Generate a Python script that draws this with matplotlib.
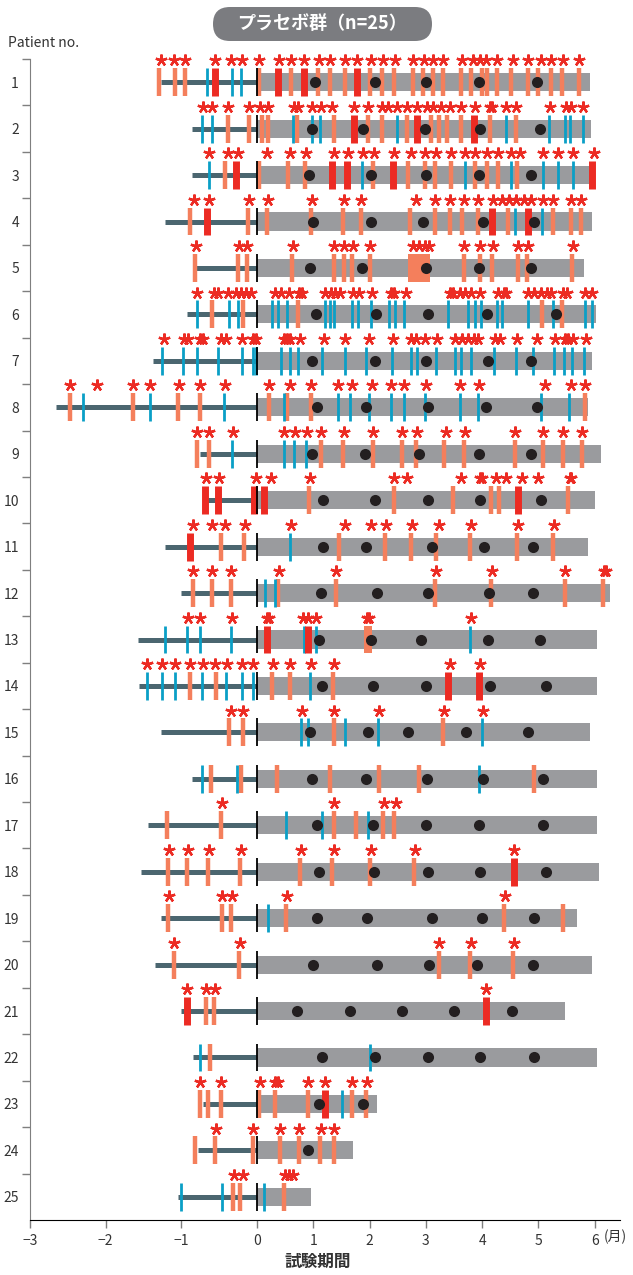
import numpy as np
import matplotlib.pyplot as plt
from matplotlib.patches import FancyBboxPatch

plt.rcParams['font.family'] = ['Noto Sans CJK JP', 'DejaVu Sans']

# 患者ごとのデータ（単位: 月）
patients = list(range(1, 26))

starts = [-1.27, -0.86, -0.86, -1.21, -0.82, -0.93, -1.37, -2.66, -0.76, -0.68,
          -1.21, -1.01, -1.57, -1.56, -1.27, -0.86, -1.44, -1.53, -1.27, -1.35,
          -1.01, -0.84, -0.72, -0.78, -1.05]
ends = [5.92, 5.94, 6.01, 5.96, 5.81, 6.03, 5.96, 5.88, 6.11, 6.00,
        5.88, 6.27, 6.04, 6.04, 5.91, 6.04, 6.05, 6.07, 5.68, 5.96,
        5.47, 6.05, 2.14, 1.70, 0.96]

dots = [
    [1.03, 2.09, 3.00, 3.94, 4.97],
    [0.97, 1.88, 2.98, 3.97, 5.03],
    [0.92, 2.02, 3.00, 3.94, 4.86],
    [1.00, 2.02, 2.95, 4.01, 4.93],
    [0.94, 1.86, 3.00, 3.94, 4.86],
    [1.05, 2.12, 3.03, 4.09, 5.31],
    [0.97, 2.09, 3.00, 4.10, 4.86],
    [1.07, 1.94, 3.04, 4.06, 4.97],
    [0.97, 1.92, 2.87, 3.94, 4.86],
    [1.17, 2.09, 3.04, 3.97, 5.05],
    [1.18, 1.94, 3.11, 4.03, 4.90],
    [1.14, 2.13, 3.04, 4.12, 4.90],
    [1.10, 2.02, 2.92, 4.10, 5.03],
    [1.16, 2.06, 3.00, 4.14, 5.13],
    [0.94, 1.97, 2.69, 3.72, 4.82],
    [0.97, 1.94, 3.02, 4.01, 5.09],
    [1.07, 2.06, 3.00, 3.94, 5.09],
    [1.10, 2.08, 3.04, 3.97, 5.13],
    [1.07, 1.96, 3.11, 4.00, 4.93],
    [1.00, 2.13, 3.05, 3.91, 4.90],
    [0.71, 1.66, 2.58, 3.50, 4.53],
    [1.16, 2.09, 3.04, 3.97, 4.92],
    [1.10, 1.89],
    [0.90],
    [],
]

orange = [
    [-1.29, -1.08, -0.95, 0.04, 0.61, 1.09, 1.29, 1.56, 2.01, 2.22, 2.44, 2.78, 2.95,
     3.13, 3.31, 3.63, 3.81, 3.99, 4.09, 4.26, 4.52, 4.81, 5.00, 5.22, 5.42, 5.73],
    [-0.38, -0.11, 0.08, 0.20, 0.71, 1.36, 1.97, 2.22, 2.66, 3.09, 3.23, 3.38, 3.63, 4.14, 4.61],
    [-0.42, 0.04, 0.55, 0.85, 2.06, 2.69, 2.98, 3.16, 3.44, 3.87, 4.09, 4.28, 4.62],
    [-0.88, -0.12, 0.18, 0.95, 1.52, 1.84, 2.71, 3.16, 3.43, 3.65, 3.92, 4.46, 5.26, 5.58, 5.76],
    [-0.82, -0.25, -0.13, 0.62, 1.36, 1.54, 1.68, 2.01, 3.67, 3.97, 4.17, 4.63, 4.80, 5.60],
    [-0.59, -0.19, 0.72, 5.06, 5.42],
    [],
    [-2.47, -1.64, -1.04, -0.76, 0.22, 0.54, 0.95, 5.82],
    [-0.79, -0.63, 1.14, 1.52, 2.06, 2.58, 2.82, 3.33, 3.68, 4.58, 5.09, 5.44, 5.78],
    [0.92, 2.43, 3.49, 4.15, 4.30, 5.53],
    [-0.47, -0.17, 1.45, 2.27, 2.74, 3.18, 3.79, 4.62, 5.26],
    [-0.84, -0.60, -0.35, 0.38, 1.40, 3.17, 4.15, 5.48, 6.14],
    [],
    [-0.89, -0.54, 0.27, 0.58, 1.35],
    [-0.37, -0.19, 1.36, 3.31],
    [-0.61, -0.21, 0.36, 1.29, 2.17, 2.87, 4.92],
    [-1.19, -0.47, 1.36, 1.75, 2.24, 2.43],
    [-1.18, -0.92, -0.65, -0.23, 0.76, 1.33, 2.01, 2.79],
    [-1.18, -0.46, -0.34, 0.51, 4.39, 5.44],
    [-1.10, -0.24, 3.23, 3.79, 4.55],
    [-0.68, -0.57],
    [-0.62],
    [-0.76, -0.65, -0.48, 0.04, 0.32, 0.90, 1.69, 1.94],
    [-0.82, -0.55, -0.06, 0.40, 0.74, 1.11, 1.36],
    [-0.32, -0.22, 0.47],
]

red = [
    [-0.56, 0.38, 0.84, 1.77],
    [1.72, 2.84, 3.85],
    [-0.28, 1.34, 1.59, 2.42, 5.96],
    [-0.66, 4.17, 4.82],
    [], [], [], [], [],
    [-0.69, -0.52, -0.04, 0.13, 4.64],
    [-0.89],
    [],
    [0.17, 0.90],
    [3.40, 3.94],
    [], [], [],
    [4.56],
    [], [],
    [-0.93, 4.06],
    [],
    [1.21],
    [], [],
]

blue = [
    [-0.66, -0.33, -0.21],
    [-0.73, -0.59, 0.64, 0.98, 1.12, 2.48, 4.43, 5.18, 5.47, 5.57, 5.80],
    [-0.64, 1.86, 3.70, 4.52, 5.08, 5.35, 5.62],
    [4.58, 5.06],
    [],
    [-0.79, -0.37, -0.25, 0.27, 0.38, 0.53, 1.20, 1.30, 1.36, 1.68, 1.79, 2.03, 2.35,
     2.45, 2.62, 3.40, 3.75, 3.88, 3.98, 4.26, 4.35, 4.81, 5.26, 5.83, 5.96],
    [-1.25, -0.98, -0.79, -0.51, -0.20, -0.05, -0.02, 0.43, 0.58, 0.72, 1.16, 1.56, 1.94,
     2.40, 2.73, 2.84, 3.18, 3.51, 3.63, 3.80, 4.21, 4.61, 4.90, 5.28, 5.46, 5.60, 5.81],
    [-2.30, -1.42, -0.44, 0.47, 1.43, 1.66, 1.99, 2.38, 2.61, 2.98, 3.60, 3.92, 5.04, 5.55],
    [-0.33, 0.47, 0.66, 0.87],
    [],
    [0.58],
    [0.14, 0.31],
    [-1.21, -0.92, -0.76, -0.34, 0.83, 1.04, 3.79],
    [-1.46, -1.26, -1.08, -0.73, -0.41, -0.20, -0.06, 0.94],
    [0.78, 0.90, 1.56, 2.15, 3.99],
    [-0.73, -0.27, 3.94],
    [0.51, 1.16, 1.97],
    [],
    [0.19],
    [], [],
    [-0.76, 2.01],
    [1.51],
    [],
    [-1.00, -0.46, 0.12],
]

# 長い期間のイベント（開始, 終了）
blocks = [[] for _ in patients]
blocks[4] = [(2.68, 3.07)]
blocks[12] = [(1.90, 2.04)]

stars = [
    [-1.27, -1.10, -0.95, -0.55, -0.34, -0.20, 0.04, 0.39, 0.61, 0.84, 1.10, 1.30, 1.56,
     1.77, 2.02, 2.24, 2.45, 2.78, 2.96, 3.13, 3.31, 3.65, 3.83, 3.96, 4.07, 4.26, 4.55,
     4.81, 5.04, 5.23, 5.44, 5.73],
    [-0.72, -0.59, -0.38, -0.11, 0.06, 0.20, 0.65, 0.72, 0.98, 1.14, 1.34, 1.72, 1.97,
     2.22, 2.33, 2.48, 2.66, 2.84, 3.02, 3.13, 3.27, 3.42, 3.63, 3.88, 4.14, 4.17, 4.43,
     4.61, 5.20, 5.49, 5.58, 5.80],
    [-0.64, -0.39, -0.25, 0.17, 0.58, 0.87, 1.36, 1.61, 1.88, 2.08, 2.43, 2.73, 2.98,
     3.18, 3.45, 3.70, 3.88, 4.09, 4.28, 4.52, 4.68, 5.08, 5.35, 5.62, 5.98],
    [-0.83, -0.64, -0.11, 0.19, 0.98, 1.54, 1.85, 2.82, 3.16, 3.43, 3.67, 3.92, 4.19,
     4.35, 4.48, 4.61, 4.75, 4.86, 5.08, 5.26, 5.58, 5.76],
    [-0.81, -0.24, -0.13, 0.64, 1.36, 1.54, 1.70, 2.01, 2.77, 2.87, 2.98, 3.05, 3.67,
     3.97, 4.19, 4.64, 4.82, 5.62],
    [-0.79, -0.57, -0.52, -0.39, -0.28, -0.21, -0.14, -0.08, 0.31, 0.42, 0.56, 0.74, 0.79,
     1.21, 1.32, 1.39, 1.47, 1.70, 1.81, 2.04, 2.38, 2.44, 2.64, 3.42, 3.49, 3.60, 3.70,
     3.81, 3.96, 4.28, 4.38, 4.43, 4.82, 4.93, 5.04, 5.15, 5.22, 5.44, 5.51, 5.83, 5.96],
    [-1.23, -0.96, -0.91, -0.75, -0.71, -0.48, -0.41, -0.20, -0.06, -0.01, 0.47, 0.53,
     0.58, 0.77, 1.19, 1.57, 1.99, 2.42, 2.74, 2.82, 2.98, 3.20, 3.52, 3.65, 3.74, 3.85,
     3.92, 4.23, 4.32, 4.62, 4.97, 5.29, 5.47, 5.53, 5.62, 5.85],
    [-2.47, -2.11, -1.64, -1.41, -1.03, -0.75, -0.43, 0.22, 0.58, 0.96, 1.43, 1.68, 2.04,
     2.38, 2.62, 3.00, 3.61, 3.94, 5.11, 5.58, 5.82],
    [-0.79, -0.63, -0.32, 0.47, 0.67, 0.89, 1.14, 1.54, 2.06, 2.58, 2.84, 3.36, 3.70,
     4.59, 5.09, 5.44, 5.78],
    [-0.67, -0.50, -0.01, 0.24, 0.94, 2.43, 2.67, 3.63, 3.96, 4.00, 4.25, 4.43, 4.71,
     5.00, 5.56, 5.58],
    [-0.85, -0.60, -0.43, -0.16, 0.61, 1.57, 2.02, 2.30, 2.75, 3.23, 3.81, 4.63, 5.27],
    [-0.84, -0.59, -0.35, 0.39, 1.40, 3.18, 4.17, 5.48, 6.16, 6.20],
    [-0.91, -0.75, -0.33, 0.18, 0.22, 0.82, 0.91, 1.05, 1.95, 1.99, 3.80],
    [-1.45, -1.26, -1.08, -0.89, -0.72, -0.55, -0.40, -0.20, -0.05, 0.29, 0.58, 0.95,
     1.36, 3.42, 3.96],
    [-0.35, -0.19, 0.79, 1.37, 2.17, 3.32, 4.01],
    [],
    [-0.46, 1.37, 2.26, 2.47],
    [-1.17, -0.91, -0.64, -0.21, 0.78, 1.37, 2.02, 2.80, 4.57],
    [-1.17, -0.46, -0.33, 0.53, 4.40],
    [-1.10, -0.23, 3.24, 3.81, 4.57],
    [-0.92, -0.67, -0.56, 4.07],
    [],
    [-0.75, -0.47, 0.06, 0.32, 0.37, 0.90, 1.21, 1.69, 1.95],
    [-0.54, -0.05, 0.40, 0.75, 1.13, 1.37],
    [-0.31, -0.18, 0.49, 0.56, 0.64],
]

xticks = [-3, -2, -1, 0, 1, 2, 3, 4, 5, 6]

ORANGE = '#f47f5c'
RED = '#ec2b23'
BLUE = '#0a9fc6'
GRAY = '#9a9b9e'
DARK = '#4b6670'
DOT = '#231f20'

# 投与前（負側）は1か月あたりの幅が広い
NEG = 75.6 / 56.2


def fwd(x):
    x = np.asarray(x, dtype=float)
    return np.where(x < 0, x * NEG, x)


def inv(x):
    x = np.asarray(x, dtype=float)
    return np.where(x < 0, x / NEG, x)


fig = plt.figure(figsize=(6.33, 12.75), dpi=100)
ax = fig.add_axes([30 / 633, 55 / 1275, 590 / 633, 1161 / 1275])
ax.set_xscale('function', functions=(fwd, inv))
ax.set_xlim(-3, 6.45)
ax.set_ylim(25.5, 0.5)

h = 0.3
for i, p in enumerate(patients):
    ax.hlines(p, starts[i], 0, color=DARK, lw=3.6, capstyle='butt', zorder=2, clip_on=False)
    ax.barh(p, ends[i], left=0, height=0.39, color=GRAY, zorder=1, clip_on=False)
    for a, b in blocks[i]:
        ax.barh(p, b - a, left=a, height=2 * h, color=ORANGE, zorder=3)
    if orange[i]:
        ax.vlines(orange[i], p - h, p + h, color=ORANGE, lw=3.2, capstyle='butt', zorder=3)
    if blue[i]:
        ax.vlines(blue[i], p - h, p + h, color=BLUE, lw=2.0, capstyle='butt', zorder=4)
    if red[i]:
        ax.vlines(red[i], p - h, p + h, color=RED, lw=5.0, capstyle='butt', zorder=5)
    ax.vlines(0, p - h, p + h, color='black', lw=1.3, capstyle='butt', zorder=6)
    if dots[i]:
        ax.plot(dots[i], [p] * len(dots[i]), 'o', ms=8, color=DOT, mec='none', zorder=7)
    if stars[i]:
        ax.plot(stars[i], [p - 0.47] * len(stars[i]), ls='none', marker=(5, 2, 0),
                ms=8.5, mew=1.7, color=RED, zorder=8, clip_on=False)

# 軸
ax.spines['top'].set_visible(False)
ax.spines['right'].set_visible(False)
ax.spines['left'].set_color('#7f7f7f')
ax.spines['bottom'].set_color('black')
ax.set_yticks(patients)
ax.set_yticklabels([str(p) for p in patients])
ax.set_yticks([p - 0.5 for p in patients], minor=True)
ax.tick_params(axis='y', which='major', length=0, pad=8, labelsize=10, labelcolor='#333333')
ax.tick_params(axis='y', which='minor', length=6, width=1, color='#7f7f7f', direction='out')
ax.set_xticks(xticks)
ax.set_xticklabels([str(t).replace('-', '\u2212') for t in xticks])
ax.xaxis.set_minor_locator(plt.NullLocator())
ax.tick_params(axis='x', which='major', length=6, width=1, color='#7f7f7f',
               pad=4, labelsize=10, labelcolor='#333333')

fig.text(604 / 633, 1 - 1237 / 1275, '(月)', ha='left', va='center', fontsize=10, color='#333333')
fig.text(318 / 633, 1 - 1262 / 1275, '試験期間', ha='center', va='center',
         fontsize=12, fontweight='bold', color='#333333')
fig.text(8 / 633, 1 - 43 / 1275, 'Patient no.', ha='left', va='center', fontsize=10, color='#333333')

# タイトルの角丸ラベル
box = FancyBboxPatch((2.13, 12.34), 2.19, 0.34, boxstyle='round,pad=0,rounding_size=0.17',
                     transform=fig.dpi_scale_trans, fc='#7b7c80', ec='none')
fig.patches.append(box)
fig.text(322 / 633, 1 - 23 / 1275, 'プラセボ群（n=25）', ha='center', va='center',
         fontsize=13, fontweight='bold', color='white')

fig.savefig('out.png', dpi=100)
